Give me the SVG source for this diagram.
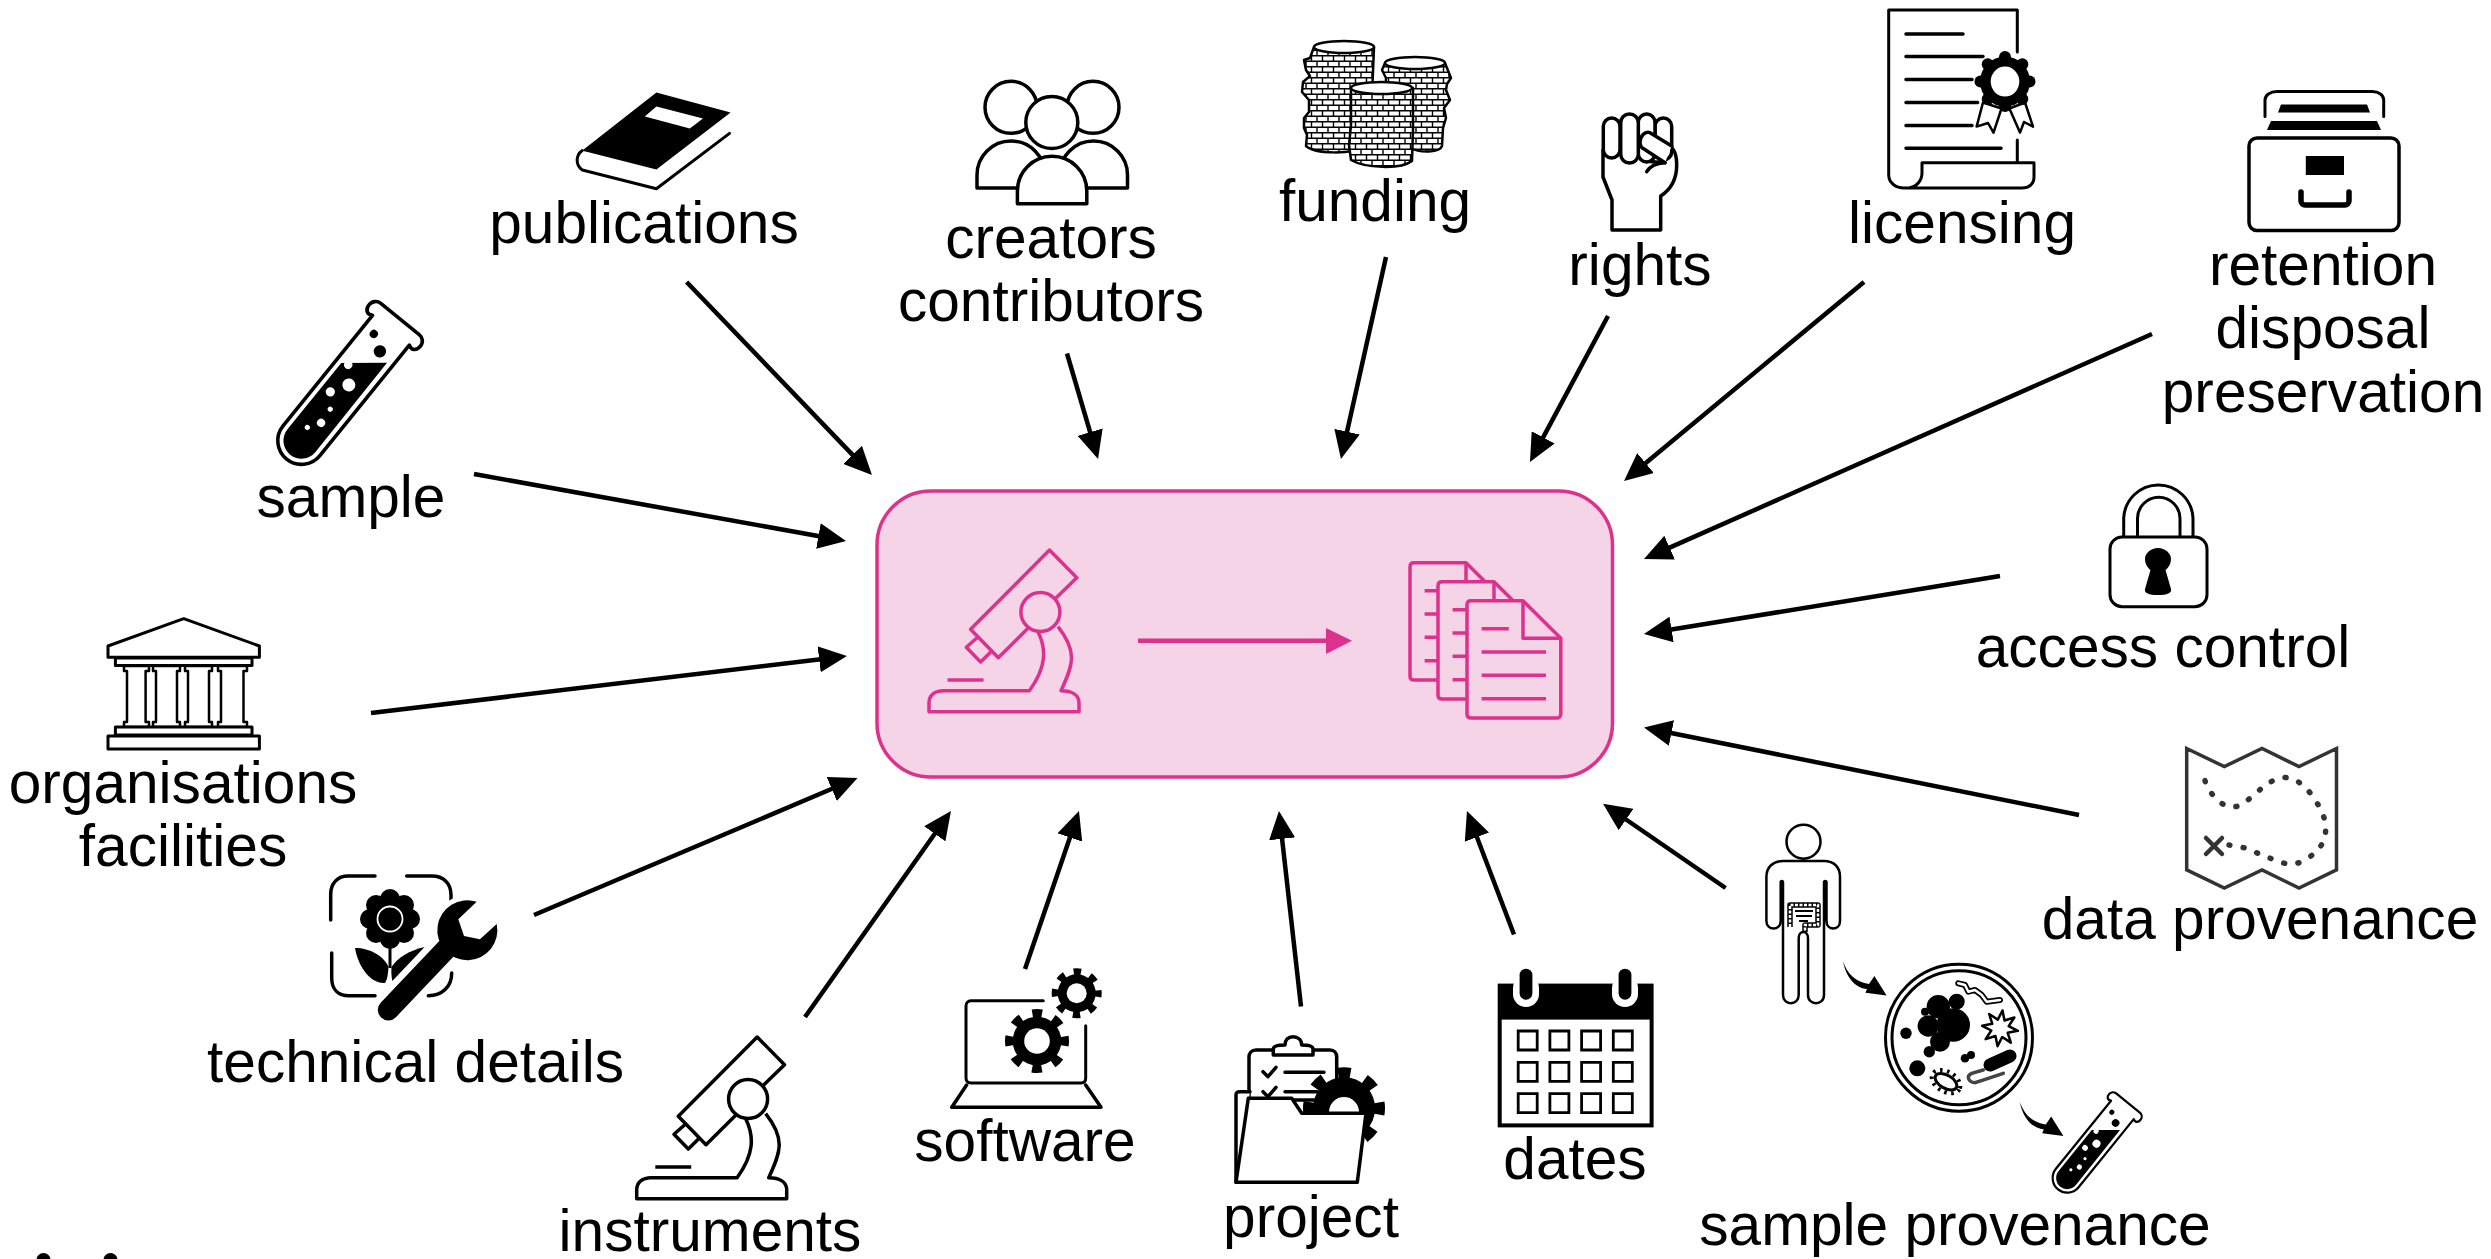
<svg xmlns="http://www.w3.org/2000/svg" width="2491" height="1259" viewBox="0 0 2491 1259">
<style>
svg{stroke-width:3.5}
text{font-family:"Liberation Sans",Arial,sans-serif;font-size:58.6px;fill:#000;text-anchor:middle;stroke:none}
.l{fill:none;stroke:#000;stroke-linecap:round;stroke-linejoin:round}
.w{fill:#fff;stroke:#000;stroke-linejoin:round;stroke-linecap:round}
.t{fill:none;stroke:#000;stroke-width:4.5;stroke-linecap:butt}
.f{fill:#000}
.wf{fill:#fff}
.p{fill:none;stroke:#dc318c;stroke-linejoin:round}
</style>
<defs>
<marker id="head" markerUnits="userSpaceOnUse" viewBox="0 0 28 26" markerWidth="28" markerHeight="26" refX="8" refY="13" orient="auto"><path d="M0 0L28 13L0 26Z" fill="#000"/></marker>
<g id="scope" fill="none" stroke="currentColor" stroke-width="3.5" stroke-linejoin="round">
<path d="M1055.7 598.3L1076.8 577.7L1049.5 550L970.6 629.3L998.3 657.7L1028 628.3"/>
<circle cx="1040.4" cy="612" r="19.5"/>
<path d="M978.2 636.7L966.3 647.3L980.6 662L991 651.7"/>
<path d="M1038 631.7C1047 650 1046 668 1029.4 690.7H943.3C935 690.7 929 695 929 703V711.7H1079V703C1079 695 1072 690.7 1061 690.7C1073 665 1078 652 1058 626.7"/>
<path d="M947.6 680H983.5"/>
</g>
<g id="doc"><path d="M1471 600.7H1523L1560.8 638.3V714C1560.8 716.5 1559 718 1557 718H1471C1468.5 718 1467 716.5 1467 714V604.7C1467 602 1468.5 600.7 1471 600.7Z" fill="#f6d4e7" stroke="#dc318c" stroke-width="3.5" stroke-linejoin="round"/>
<path d="M1523 600.7V638.3H1560.8M1481.6 628.7H1508.8M1481.6 652H1546M1481.6 675.3H1546M1481.6 698.7H1546" class="p"/></g>
<g id="tube">
<path class="w" d="M-23 14V152A23 23 0 0 0 23 152V14C28 17 32 14 32 8C32 3 28 0 24 0H-24C-28 0 -32 3 -32 8C-32 14 -28 17 -23 14"/>
<path class="f" d="M-17.5 69L17 41L17.5 152A17.5 17.5 0 0 1 -17.5 152Z"/>
<circle class="wf" cx="1.7" cy="81" r="6.3"/><circle class="wf" cx="-8.1" cy="97.5" r="4.5"/><circle class="wf" cx="2.5" cy="110.7" r="2.5"/><circle class="wf" cx="3.9" cy="126.6" r="4"/><circle class="wf" cx="-3.7" cy="138.4" r="2.5"/><circle class="wf" cx="-11" cy="66.3" r="4"/>
<circle class="f" cx="-10.6" cy="27.3" r="4"/><circle class="f" cx="4.6" cy="36.7" r="6"/>
</g>
<g id="cog"><circle r="76" fill="#000"/><circle r="86" fill="none" stroke="#000" stroke-width="28" stroke-dasharray="30 37.54" stroke-dashoffset="15"/></g>
<g id="gear"><use href="#cog"/><circle r="40" fill="#fff"/></g>
<path id="curve" d="M1843 961.5C1848 975 1856 982 1869 984L1874.4 976L1886.6 995.6L1865.4 992.8L1867 989C1855 988 1846 977 1843 961.5Z" fill="#000"/>
<pattern id="coin" patternUnits="userSpaceOnUse" width="11" height="11"><rect width="11" height="11" fill="#fff"/><path d="M0 .7H11M0 6.2H11M2.500 0V5.500M8 5.500V11" stroke="#000" stroke-width="1.400" fill="none"/></pattern>
</defs>

<g id="center">
<rect x="877" y="491" width="735.5" height="286" rx="54" fill="#f6d4e7" stroke="#dc318c" stroke-width="3.5"/>
<use href="#scope" color="#dc318c"/>
<path d="M1138 640.7H1330" stroke="#dc318c" stroke-width="4.5" fill="none"/>
<path d="M1326 628L1352 640.7L1326 654Z" fill="#dc318c"/>
<use href="#doc" x="-57" y="-38"/><use href="#doc" x="-29" y="-19"/><use href="#doc"/>
</g>

<g id="connectors">
<path class="t" marker-end="url(#head)" d="M686.6 282L858.1 460.6"/>
<path class="t" marker-end="url(#head)" d="M474 474L826.3 537.5"/>
<path class="t" marker-end="url(#head)" d="M371 713L827.1 658.4"/>
<path class="t" marker-end="url(#head)" d="M534 915L839.1 785.8"/>
<path class="t" marker-end="url(#head)" d="M805 1017L939.4 827.3"/>
<path class="t" marker-end="url(#head)" d="M1025 969L1072.5 829.9"/>
<path class="t" marker-end="url(#head)" d="M1301 1006.5L1281.2 830.9"/>
<path class="t" marker-end="url(#head)" d="M1514 934.5L1474.1 829.7"/>
<path class="t" marker-end="url(#head)" d="M1725.6 888L1619.5 815"/>
<path class="t" marker-end="url(#head)" d="M2079 815L1663.6 731.5"/>
<path class="t" marker-end="url(#head)" d="M2000 576L1663.7 630.8"/>
<path class="t" marker-end="url(#head)" d="M2152 334L1662.3 550.9"/>
<path class="t" marker-end="url(#head)" d="M1864 282L1639.4 468.2"/>
<path class="t" marker-end="url(#head)" d="M1608 316L1539.4 444.4"/>
<path class="t" marker-end="url(#head)" d="M1386 257L1345.3 439.5"/>
<path class="t" marker-end="url(#head)" d="M1067 353.5L1092.4 439.8"/>
</g>

<g id="publications">
<path class="w" stroke-width="3" d="M582 150.7C576 155 575 165 582.3 170L656.4 188.8L729.5 133.4"/>
<path class="f" d="M656.4 92.4L730.6 112.5L656.4 169.5L587.6 151.9L582 150.7Z"/>
<path class="wf" d="M656.4 106.5L703 118.5L689.8 128.6L644.8 116.5Z"/>
<text x="644" y="243">publications</text>
</g>

<g id="sample">
<use href="#tube" transform="translate(400 319) rotate(39) scale(1.03)"/>
<text x="351" y="516.5">sample</text>
</g>

<g id="organisations">
<path class="w" stroke-width="3" d="M183.7 618.7L259.4 646V657.3H108V646Z"/>
<rect class="w" stroke-width="3" x="115.4" y="658" width="136.6" height="7.5"/>
<path class="w" stroke-width="2.5" d="M124 666H149V671H145.6V722H149V727H124V722H127V671H124Z"/>
<path class="w" stroke-width="2.5" d="M153 666H180V671H177V722H180V727H153V722H156V671H153Z"/>
<path class="w" stroke-width="2.5" d="M185 666H212V671H209V722H212V727H185V722H188V671H185Z"/>
<path class="w" stroke-width="2.5" d="M218 666H247V671H243.5V722H247V727H218V722H221V671H218Z"/>
<rect class="w" stroke-width="3" x="115.4" y="727" width="136.6" height="8"/>
<rect class="w" stroke-width="3" x="108" y="736" width="151.4" height="13"/>
<text x="183" y="803">organisations</text>
<text x="183" y="866">facilities</text>
</g>

<g id="technical-details">
<path class="l" d="M330.7 920V894C330.7 883 338 876 348 876H375M406.7 876H432C443 876 451 883 451 895V900M331.7 953V978C331.7 989 338 995.7 349 995.7H375M428.3 995.7C442 995.7 451.7 987 451.7 973"/>
<g class="f">
<circle cx="390" cy="899" r="10"/><circle cx="390" cy="939" r="10"/><circle cx="370" cy="919" r="10"/><circle cx="410" cy="919" r="10"/><circle cx="376" cy="905" r="10"/><circle cx="404" cy="905" r="10"/><circle cx="376" cy="933" r="10"/><circle cx="404" cy="933" r="10"/>
<circle cx="390" cy="919" r="15"/>
</g>
<circle cx="390" cy="919" r="12.5" fill="#000" stroke="#fff" stroke-width="1.8"/>
<path d="M390 945V968" stroke="#000" stroke-width="3"/>
<path class="f" d="M355 948C370 948 384 956 388.5 967C388 975 387 980 385 983C370 984 358 966 355 948Z"/>
<path class="f" d="M425 947C410 950 397 958 391.500 967C391 975 392 980 393 983L402 974Z"/>
<path d="M388.300 1010L450 945" stroke="#fff" stroke-width="34" stroke-linecap="round"/>
<circle cx="470" cy="930" r="36" fill="#fff"/>
<path d="M388.300 1010L450 945" stroke="#000" stroke-width="21" stroke-linecap="round"/>
<path class="f" d="M476.700 901.700A30 30 0 1 0 496.700 924L480 939.300L464 936L458.300 919.300Z"/>
<text x="415.500" y="1081.500">technical details</text>
</g>

<g id="instruments">
<use href="#scope" color="#000" x="-292.300" y="487"/>
<text x="710" y="1250.500">instruments</text>
</g>

<g id="software">
<path class="l" stroke-width="3" d="M1043.300 1000.800H971C968 1000.800 966 1003 966 1006V1078C966 1081 968 1083 971 1083H1081C1084 1083 1085.700 1081 1085.700 1078V1025.700"/>
<path class="l" d="M966.600 1085L951.800 1107.300H1101L1085.700 1085"/>
<use href="#gear" transform="translate(1037 1041) scale(.32)"/>
<use href="#gear" transform="translate(1076.700 993.200) scale(.25)"/>
<text x="1025" y="1161">software</text>
</g>

<g id="project">
<path class="w" d="M1249 1100V1057C1249 1053 1252 1050 1256 1050H1330C1334 1050 1336.700 1053 1336.700 1057V1100Z"/>
<path class="w" d="M1273.300 1055V1049C1273.300 1047 1275 1045 1285 1045C1285 1040 1288 1036.700 1293 1036.700C1298 1036.700 1301.700 1040 1301.700 1045C1311 1045 1313 1047 1313 1049V1055Z"/>
<path class="l" d="M1263 1071.700L1268 1076.700L1276 1067.300M1263 1091.700L1268 1096.700L1276 1087.300M1285 1072.300H1324M1285 1091.700H1317"/>
<use href="#cog" transform="translate(1344 1108.300) scale(.41)"/>
<circle cx="1344" cy="1112" r="15" fill="#fff"/>
<path class="w" d="M1236 1182.300V1095C1236 1092.500 1237 1091.700 1240 1091.700H1250"/>
<path class="w" d="M1248.300 1098.300H1291.700L1301.700 1113.300H1366L1357.300 1182.300H1236Z"/>
<text x="1311" y="1236.500">project</text>
</g>

<g id="dates">
<rect x="1499.700" y="985.600" width="151.900" height="139.800" fill="#fff" stroke="#000" stroke-width="4"/>
<rect class="f" x="1499.700" y="985.600" width="151.900" height="34"/>
<rect class="wf" x="1513" y="975" width="26" height="32" rx="13"/><rect class="wf" x="1612" y="975" width="26" height="32" rx="13"/>
<rect class="f" x="1519.600" y="968.700" width="12.800" height="31" rx="6.400"/><rect class="f" x="1618.600" y="968.700" width="12.800" height="31" rx="6.400"/>
<g fill="none" stroke="#000" stroke-width="2.800">
<path d="M1518.200 1031h19v19h-19zM1549.900 1031h19v19h-19zM1581.600 1031h19v19h-19zM1613.300 1031h19v19h-19z"/>
<path d="M1518.200 1062.300h19v19h-19zM1549.900 1062.300h19v19h-19zM1581.600 1062.300h19v19h-19zM1613.300 1062.300h19v19h-19z"/>
<path d="M1518.200 1093.600h19v19h-19zM1549.900 1093.600h19v19h-19zM1581.600 1093.600h19v19h-19zM1613.300 1093.600h19v19h-19z"/>
</g>
<text x="1575" y="1178.600">dates</text>
</g>

<g id="sample-provenance">
<ellipse class="w" stroke-width="2.500" cx="1803.500" cy="841.700" rx="17" ry="17"/>
<path class="w" stroke-width="2.500" d="M1783 861H1824C1834 861 1840 867 1840 877V921C1840 931 1826.500 931 1826.500 921V882.300C1826.500 880.500 1824 880.500 1824 882.300V995C1824 1006 1808 1006 1808 995V938C1808 930 1798.700 930 1798.700 938V995C1798.700 1006 1783 1006 1783 995V882.300C1783 880.500 1780.700 880.500 1780.700 882.300V921C1780.700 931 1766.400 931 1766.400 921V877C1766.400 867 1773 861 1783 861Z"/>
<path d="M1790 927V905H1818V925H1805V932" fill="none" stroke="#000" stroke-width="5.500" stroke-linejoin="round"/>
<path d="M1790 927V905H1818V925H1805V932" fill="none" stroke="#fff" stroke-width="2.500" stroke-dasharray="3 1.500"/>
<path d="M1795 911H1813M1796 916H1812M1799 921H1808" stroke="#000" stroke-width="2" fill="none"/>
<use href="#curve"/>
<use href="#curve" x="176.800" y="140.400"/>
<circle class="w" stroke-width="3" cx="1959" cy="1037.700" r="73.500"/>
<circle class="l" stroke-width="3" cx="1959" cy="1037.700" r="67"/>
<g class="f">
<circle cx="1938.300" cy="1006.700" r="11.700"/><circle cx="1956.700" cy="1001.700" r="8"/><circle cx="1925" cy="1011.700" r="4"/><circle cx="1928.300" cy="1026" r="10.700"/><circle cx="1953.300" cy="1025" r="16.700"/><circle cx="1940" cy="1041.700" r="10"/><circle cx="1929.300" cy="1051.700" r="5.700"/><circle cx="1906" cy="1033.300" r="5.700"/><circle cx="1917.300" cy="1068.300" r="8"/><circle cx="1965" cy="1058.300" r="4.300"/><circle cx="1971" cy="1055" r="4"/>
</g>
<path d="M1958.300 983.300L1965 985L1968.300 991.700L1975 990L1981.700 995L1986.700 1001.700L2000 1000" fill="none" stroke="#000" stroke-width="6" stroke-linejoin="round" stroke-linecap="round"/>
<path d="M1958.300 983.300L1965 985L1968.300 991.700L1975 990L1981.700 995L1986.700 1001.700L2000 1000" fill="none" stroke="#fff" stroke-width="2.500" stroke-linejoin="round" stroke-linecap="round"/>
<path class="w" stroke-width="2.500" transform="translate(2000 1028.300) rotate(8)" d="M18 0L8.300 3.400L12.700 12.700L3.400 8.300L0 18L-3.400 8.300L-12.700 12.700L-8.300 3.400L-18 0L-8.300 -3.400L-12.700 -12.700L-3.400 -8.300L0 -18L3.400 -8.300L12.700 -12.700L8.300 -3.400Z"/>
<path d="M1990 1065L2010 1056" stroke="#000" stroke-width="13" stroke-linecap="round"/>
<path d="M1983.300 1070L1971.700 1073.300C1966 1076 1968 1082 1975 1082.700L1988.300 1078.300L2003.300 1073.300" fill="none" stroke="#444" stroke-width="3.500" stroke-linecap="round"/>
<ellipse class="w" stroke-width="3" cx="1946" cy="1081.700" rx="12" ry="6.500" transform="rotate(30 1946 1081.700)"/>
<ellipse cx="1946" cy="1081.700" rx="15.500" ry="10" transform="rotate(30 1946 1081.700)" fill="none" stroke="#000" stroke-width="4" stroke-dasharray="2.500 4.500"/>
<use href="#tube" transform="translate(2128 1103) rotate(39) scale(.635)"/>
<text x="1955" y="1244.500">sample provenance</text>
</g>

<g id="data-provenance">
<path fill="#fff" stroke="#333" stroke-width="3.500" stroke-linejoin="miter" d="M2186.700 748.500L2224.300 766.600L2262 748.500L2299 766.600L2336.500 748.500V869.900L2299 888L2262 869.900L2224.300 888L2186.700 869.900Z"/>
<path d="M2205 780.700C2210 795 2222 808 2234.400 806.800C2250 805 2265 777 2285.700 777.500C2302 778 2318 800 2324.400 818.800C2328 835 2325 850 2300.600 862.200C2290 866 2282 863 2274 859.800L2245 848L2229 845" fill="none" stroke="#333" stroke-width="5.500" stroke-linecap="round" stroke-dasharray="1 13.500"/>
<path d="M2206 838L2222 854M2222 838L2206 854" stroke="#333" stroke-width="4.500" stroke-linecap="round"/>
<text x="2260" y="938.600">data provenance</text>
</g>

<g id="access-control">
<path class="l" stroke-width="3" d="M2123.700 537V518A34.700 35 0 0 1 2193 518V537M2137.500 537V518.500A21.200 21.200 0 0 1 2180 518.500V537"/>
<rect class="w" stroke-width="3" x="2110" y="537" width="97" height="69.700" rx="12"/>
<path class="f" d="M2158 548C2165 548 2171 553 2171 559C2171 564 2168 568 2165.500 570L2171 589C2172 593 2167 595 2158 595C2149 595 2144 593 2145 589L2150.500 570C2148 568 2145 564 2145 559C2145 553 2151 548 2158 548Z"/>
<text x="2163" y="667">access control</text>
</g>

<g id="retention">
<path class="l" stroke-width="3" d="M2265 116.500V100C2265 95 2270 91.600 2277 91.600H2372C2379 91.600 2383.700 95 2383.700 100V116.500"/>
<path class="f" d="M2281 104.500H2367L2370 112.500H2278Z"/>
<path class="f" d="M2271 121H2377L2381 130H2267Z"/>
<rect class="w" stroke-width="3.500" x="2249" y="138" width="150" height="92.600" rx="8"/>
<rect class="f" x="2305.800" y="156" width="38.200" height="19"/>
<path d="M2301 192V201C2301 203 2303 205 2305 205H2345C2347 205 2349 203 2349 201V192" fill="none" stroke="#000" stroke-width="5.500" stroke-linecap="round"/>
<text x="2323" y="284.500">retention</text>
<text x="2323" y="348">disposal</text>
<text x="2323" y="412">preservation</text>
</g>

<g id="licensing">
<path class="l" stroke-width="3" d="M2017.300 52V10H1888.700V175C1888.700 183 1896 188 1904 188H2022C2029 188 2034 184 2034 177V162.700H1922V173C1922 181 1916 187 1909 188M2017.300 140V162.700"/>
<path class="l" d="M1906 34H1963M1906 56.600H1983M1906 79.500H1972M1906 102.500H1977.600M1906 125.400H1972M1906 148.300H2001"/>
<path class="w" stroke-width="2.500" d="M1983 102.500L1976.600 126.600L1988 123L1993.500 132.600L2001.500 108.500Z"/>
<path class="w" stroke-width="2.500" d="M2009.400 108.500L2020 132.600L2024 122L2033 126.600L2025 102.500Z"/>
<g class="f"><circle cx="2005" cy="81.600" r="25"/><circle cx="2005" cy="57" r="6"/><circle cx="2005" cy="106" r="6"/><circle cx="1980.500" cy="81.600" r="6"/><circle cx="2029.500" cy="81.600" r="6"/><circle cx="1987.700" cy="64.300" r="6"/><circle cx="2022.300" cy="64.300" r="6"/><circle cx="1987.700" cy="98.900" r="6"/><circle cx="2022.300" cy="98.900" r="6"/></g>
<ellipse class="wf" cx="2005" cy="81.600" rx="14.300" ry="15"/>
<text x="1962" y="243">licensing</text>
</g>

<g id="rights">
<path class="w" d="M1603 150V177L1612 200V230H1660.700V196C1670 190 1676.700 180 1676.700 165C1676.700 150 1672 145 1660 142L1603 150Z"/>
<rect class="w" x="1655" y="118" width="16.700" height="42" rx="8.300"/>
<rect class="w" x="1638.300" y="114" width="16.700" height="48" rx="8.300"/>
<rect class="w" x="1603.300" y="118" width="16.700" height="40" rx="8.300"/>
<rect class="w" x="1620.700" y="114" width="17.600" height="49" rx="8.800"/>
<path class="w" d="M1671.700 146L1650 132.700C1645 131 1640 136 1640 143C1640 146 1642 148 1644 149L1665 162.700"/>
<path class="l" d="M1650 161.500L1665 162.700M1646.700 171.700C1650 166 1656 163 1665 162.700"/>
<text x="1640" y="284.500">rights</text>
</g>

<g id="funding">
<path fill="url(#coin)" stroke="#000" stroke-width="2.500" stroke-linejoin="round" d="M1314 47L1310 58L1304 60L1306 70L1310 76L1303 82L1302 92L1309 100L1309 112L1304 118L1304 128L1307 135L1306 146C1315 154 1350 155 1370 146L1374 47Z"/>
<ellipse class="w" stroke-width="2.500" fill="#f5f5f5" cx="1344" cy="47" rx="30" ry="6"/>
<path fill="url(#coin)" stroke="#000" stroke-width="2.500" stroke-linejoin="round" d="M1385 63L1382 70L1386 78L1386 86L1410 88L1410 148C1420 153 1440 153 1442 146L1443 128L1446 118L1444 108L1450 100L1446 90L1447 84L1451 78L1445 63Z"/>
<ellipse class="w" stroke-width="2.500" fill="#fff" cx="1415" cy="63" rx="30" ry="6"/>
<path fill="url(#coin)" stroke="#000" stroke-width="2.500" stroke-linejoin="round" d="M1351 88V125L1349 145L1351 160C1365 168 1400 170 1412 161L1413 130V88Z"/>
<ellipse class="w" stroke-width="2.500" fill="#f5f5f5" cx="1381.500" cy="88" rx="30.500" ry="6"/>
<text x="1375" y="221">funding</text>
</g>

<g id="creators">
<circle class="w" cx="1011" cy="107.300" r="26"/>
<circle class="w" cx="1093" cy="107.300" r="26"/>
<path class="w" d="M977 188V175A34 34 0 0 1 1045 175V188Z"/>
<path class="w" d="M1059.500 188V175A34 34 0 0 1 1127.500 175V188Z"/>
<circle class="w" cx="1051.800" cy="122.500" r="26"/>
<path class="w" d="M1017.400 203.700V191A34.700 34.700 0 0 1 1086.800 191V203.700Z"/>
<text x="1051" y="258">creators</text>
<text x="1051" y="320.500">contributors</text>
</g>

<g id="clipped-marks"><circle class="f" cx="43.500" cy="1260" r="7"/><circle class="f" cx="110.500" cy="1260" r="7"/></g>
</svg>
